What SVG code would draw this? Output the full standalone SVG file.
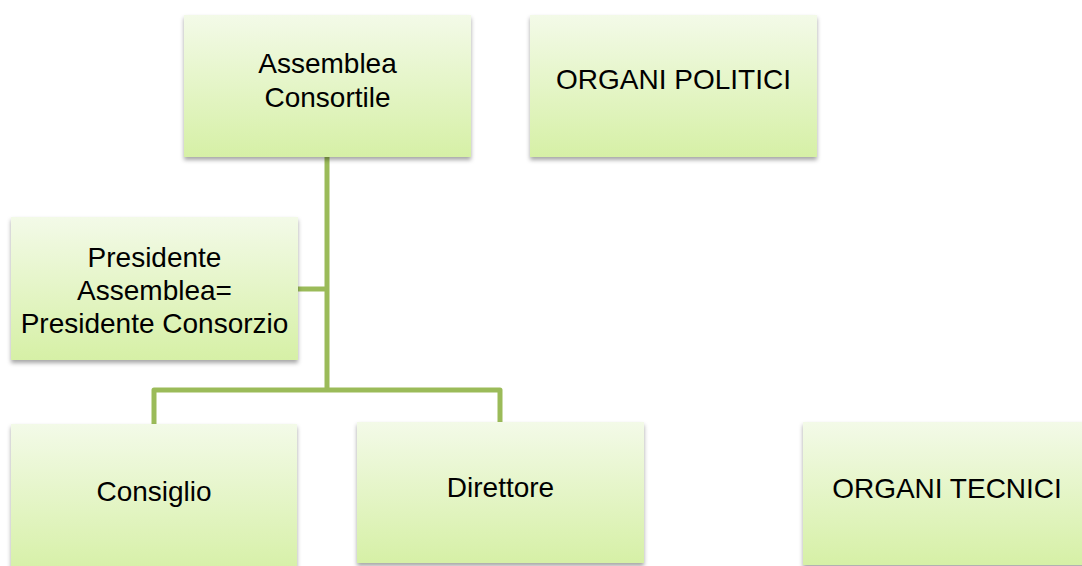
<svg xmlns="http://www.w3.org/2000/svg" width="1082" height="566" viewBox="0 0 1082 566">
<defs>
<linearGradient id="g" x1="0" y1="0" x2="0" y2="1">
<stop offset="0" stop-color="#F3FAE8"/>
<stop offset="1" stop-color="#D6F0A6"/>
</linearGradient>
<filter id="sh" x="-10%" y="-10%" width="120%" height="130%">
<feDropShadow dx="0" dy="3" stdDeviation="2" flood-color="#000" flood-opacity="0.35"/>
</filter>
</defs>
<style>
.box{fill:url(#g);filter:url(#sh);}
.t{font-family:"Liberation Sans",Arial,sans-serif;font-size:28px;fill:#000;text-anchor:middle;}
.c{fill:none;stroke:#9BBB59;stroke-width:5;stroke-linejoin:round;}
</style>
<rect width="1082" height="566" fill="#fff"/>
<g id="connectors">
<path class="c" d="M327,157 V390"/>
<path class="c" d="M298,289 H327"/>
<path class="c" d="M154,424 V390 H500 V424"/>
</g>
<g id="assemblea">
<rect class="box" x="184" y="15" width="287" height="142"/>
<text class="t" x="327.5" y="73">Assemblea</text>
<text class="t" x="327.5" y="107">Consortile</text>
</g>
<g id="organi-politici">
<rect class="box" x="530" y="15" width="287" height="142"/>
<text class="t" x="673.5" y="89">ORGANI POLITICI</text>
</g>
<g id="presidente">
<rect class="box" x="11" y="217" width="287" height="143"/>
<text class="t" x="154.5" y="267">Presidente</text>
<text class="t" x="154.5" y="300">Assemblea=</text>
<text class="t" x="154.5" y="333">Presidente Consorzio</text>
</g>
<g id="consiglio">
<rect class="box" x="11" y="424" width="286" height="150"/>
<text class="t" x="154" y="501">Consiglio</text>
</g>
<g id="direttore">
<rect class="box" x="357" y="422" width="287" height="141"/>
<text class="t" x="500.5" y="497">Direttore</text>
</g>
<g id="organi-tecnici">
<rect class="box" x="803" y="422" width="288" height="143"/>
<text class="t" x="947" y="498">ORGANI TECNICI</text>
</g>
</svg>
